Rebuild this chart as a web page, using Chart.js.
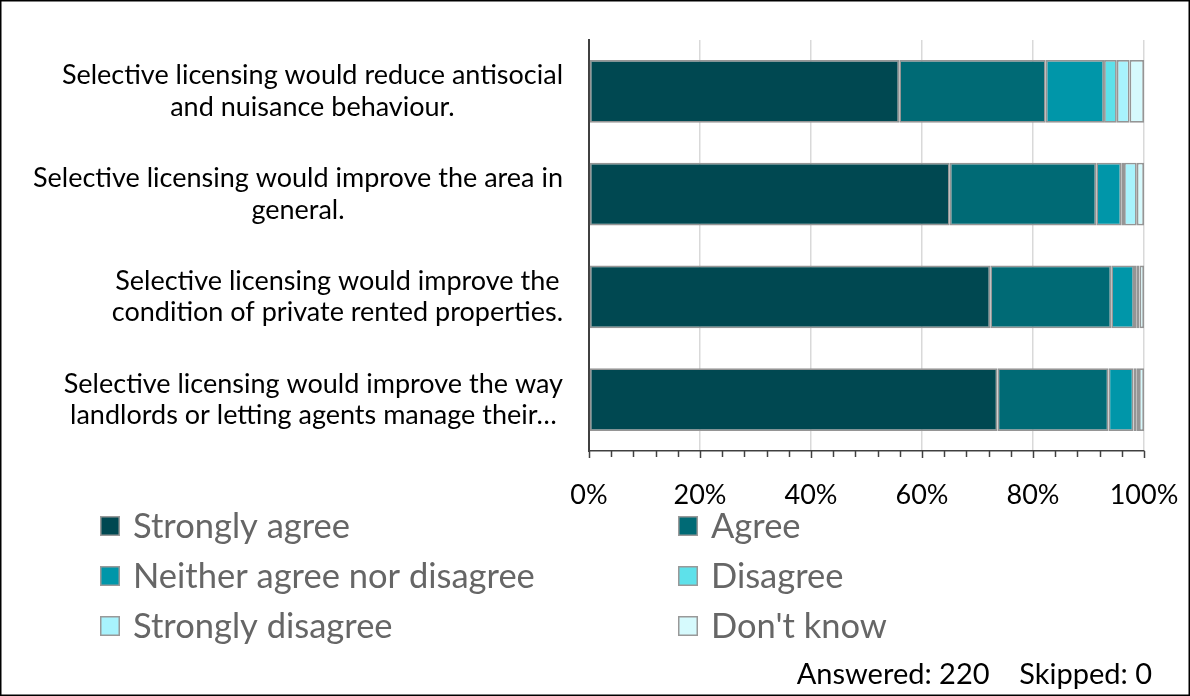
<!DOCTYPE html>
<html>
<head>
<meta charset="utf-8">
<script src="https://cdn.jsdelivr.net/npm/chart.js@4.4.1/dist/chart.umd.min.js"></script>
<style>
  html, body { margin: 0; padding: 0; background: #fff; }
  #wrap { width: 1190px; height: 696px; position: relative; }
</style>
</head>
<body>
<div id="wrap"><canvas id="c" width="1190" height="696"></canvas></div>
<script>
// Survey statements (each label wraps onto two lines)
const categories = [
  ["Selective licensing would reduce antisocial", "and nuisance behaviour."],
  ["Selective licensing would improve the area in", "general."],
  ["Selective licensing would improve the", "condition of private rented properties."],
  ["Selective licensing would improve the way", "landlords or letting agents manage their\u2026"]
];

// Share of respondents per answer, in percent
const stronglyAgree    = [55.9, 65.0, 72.3, 73.6];
const agree            = [26.4, 26.4, 21.8, 20.0];
const neitherAgree     = [10.5,  4.5,  4.1,  4.5];
const disagree         = [ 2.3,  0.5,  0.5,  0.5];
const stronglyDisagree = [ 2.3,  2.3,  0.5,  0.5];
const dontKnow         = [ 2.6,  1.3,  0.8,  0.9];

const seriesNames = ["Strongly agree", "Agree", "Neither agree nor disagree",
                     "Disagree", "Strongly disagree", "Don't know"];
const seriesColors = ["#004851", "#006a75", "#0096a9", "#5ee1ea", "#a8f3fd", "#d6fafd"];

const xTicks = [0, 20, 40, 60, 80, 100];
const answered = 220;
const skipped = 0;

const FONT = "Lato, 'Open Sans', sans-serif";
Chart.defaults.font.family = FONT;

const seriesValues = [stronglyAgree, agree, neitherAgree, disagree, stronglyDisagree, dontKnow];

// Wrapped category labels: each label's lines are centred on one another,
// and the block is right-aligned next to the value axis.
const categoryLabels = {
  id: 'categoryLabels',
  afterDraw(chart) {
    const ctx = chart.ctx;
    const y = chart.scales.y;
    ctx.save();
    ctx.font = "27px " + FONT;
    ctx.fillStyle = "#000";
    ctx.textAlign = "center";
    ctx.textBaseline = "middle";
    const right = 563, lineH = 31.5;
    chart.data.labels.forEach((lines, i) => {
      const cy = y.getPixelForValue(i);
      const w = Math.max(...lines.map(l => ctx.measureText(l).width));
      const cx = right - w / 2;
      lines.forEach((l, k) => {
        ctx.fillText(l, cx, cy + (k - (lines.length - 1) / 2) * lineH);
      });
    });
    ctx.restore();
  }
};

// Major and minor tick marks under the value axis
const axisTicks = {
  id: 'axisTicks',
  afterDraw(chart) {
    const ctx = chart.ctx;
    const x = chart.scales.x;
    const base = chart.chartArea.bottom;
    ctx.save();
    ctx.strokeStyle = "#404040";
    ctx.lineWidth = 1.5;
    for (let v = x.min; v <= x.max; v += 4) {
      const px = Math.round(x.getPixelForValue(v)) + 0.5;
      const len = (v % 20 === 0) ? 7 : 6;
      ctx.beginPath();
      ctx.moveTo(px, base);
      ctx.lineTo(px, base + len);
      ctx.stroke();
    }
    ctx.restore();
  }
};

// Two-column legend, footer note and frame
const legendAndFrame = {
  id: 'legendAndFrame',
  afterDraw(chart) {
    const ctx = chart.ctx;
    ctx.save();
    const colX = [100, 678];
    const rowY = [526, 576, 626];
    ctx.font = "34.5px " + FONT;
    ctx.textBaseline = "middle";
    ctx.textAlign = "left";
    chart.data.datasets.forEach((ds, i) => {
      const bx = colX[i % 2], cy = rowY[Math.floor(i / 2)];
      ctx.fillStyle = ds.backgroundColor;
      ctx.fillRect(bx, cy - 10, 20, 20);
      ctx.strokeStyle = "#999";
      ctx.lineWidth = 1.5;
      ctx.strokeRect(bx + 0.75, cy - 9.25, 18.5, 18.5);
      ctx.fillStyle = "#666";
      ctx.fillText(ds.label, bx + 33, cy + 1);
    });

    ctx.font = "29px " + FONT;
    ctx.fillStyle = "#000";
    ctx.textAlign = "right";
    ctx.textBaseline = "alphabetic";
    ctx.fillText("Answered: " + answered + "    Skipped: " + skipped, 1152, 684);

    ctx.strokeStyle = "#000";
    ctx.lineWidth = 1.5;
    ctx.strokeRect(0.75, 0.75, 1188.5, 694.5);
    ctx.restore();
  }
};

new Chart(document.getElementById('c'), {
  type: 'bar',
  data: {
    labels: categories,
    datasets: seriesNames.map((name, i) => ({
      label: name,
      data: seriesValues[i],
      backgroundColor: seriesColors[i],
      borderColor: "#959595",
      borderWidth: 1.75,
      borderSkipped: false,
      barPercentage: 0.61,
      categoryPercentage: 1.0
    }))
  },
  options: {
    indexAxis: 'y',
    responsive: false,
    animation: false,
    layout: { padding: { top: 40, right: 46, bottom: 0, left: 0 } },
    plugins: {
      legend: { display: false },
      tooltip: { enabled: false }
    },
    scales: {
      x: {
        stacked: true,
        min: 0,
        max: 100,
        afterBuildTicks(scale) { scale.ticks = xTicks.map(v => ({ value: v })); },
        afterFit(scale) {
          scale.height = 245;
          scale.paddingLeft = 0;
          scale.paddingRight = 0;
        },
        ticks: {
          callback: v => v + "%",
          color: "#000",
          font: { size: 27 },
          padding: 28,
          maxRotation: 0
        },
        grid: { color: "#d9d9d9", lineWidth: 1.5, drawTicks: false },
        border: { display: true, color: "#404040", width: 1.5 }
      },
      y: {
        stacked: true,
        afterFit(scale) { scale.width = 589; },
        ticks: { display: false },
        grid: { display: false },
        border: { display: true, color: "#404040", width: 2 }
      }
    }
  },
  plugins: [categoryLabels, axisTicks, legendAndFrame]
});
</script>
</body>
</html>
